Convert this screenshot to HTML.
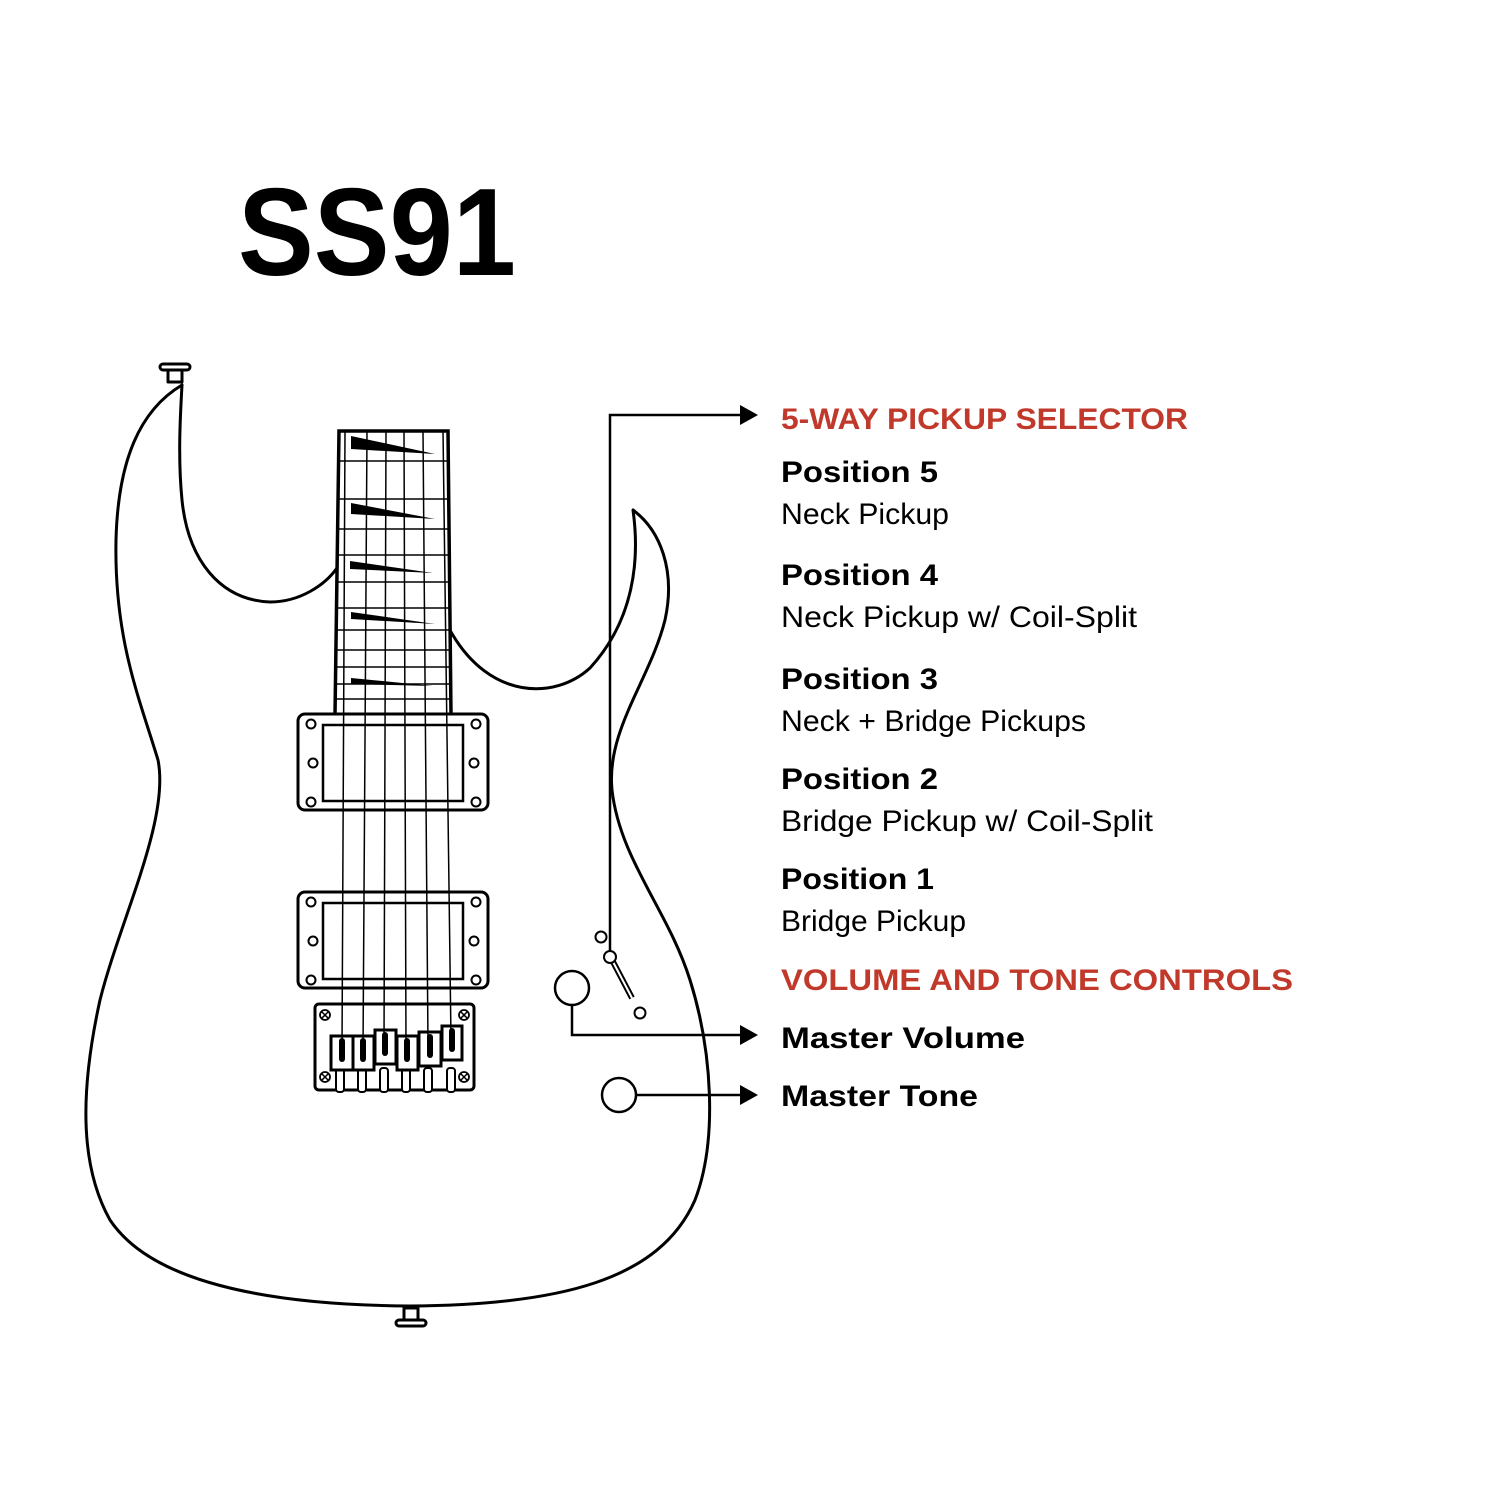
<!DOCTYPE html>
<html><head><meta charset="utf-8"><style>
html,body{margin:0;padding:0;background:#fff;}
svg{display:block;}
</style></head><body>
<svg width="1500" height="1500" viewBox="0 0 1500 1500" xmlns="http://www.w3.org/2000/svg">
<rect width="1500" height="1500" fill="#fff"/>
<text x="238" y="275" font-family="Liberation Sans, sans-serif" font-weight="bold" font-size="124" textLength="278" lengthAdjust="spacingAndGlyphs" fill="#000">SS91</text>

<g fill="none" stroke="#000" stroke-width="3" stroke-linejoin="round" stroke-linecap="round">
<!-- body -->
<path d="M182,385 C140,410 118,460 116,540 C114,640 140,700 158,760 C170,820 120,920 100,1000 C78,1100 82,1170 110,1220 C150,1280 260,1305 410,1306 C560,1305 660,1280 695,1200 C718,1140 712,1050 690,980 C668,910 620,860 612,790 C606,730 650,680 665,620 C676,570 660,530 633,510 C640,560 634,620 590,668 C555,700 490,700 451,632"/>
<path d="M182,385 C180,420 178,460 182,500 C188,560 220,600 270,602 C300,602 325,585 337,568"/>
<!-- strap buttons -->
<rect x="160" y="364" width="30" height="6" rx="3"/>
<rect x="168" y="370" width="14" height="12"/>
<rect x="396" y="1320" width="30" height="6" rx="3"/>
<rect x="404" y="1308" width="14" height="12"/>
</g>

<!-- fretboard -->
<g fill="none" stroke="#000">
<path d="M339,431 L448,431 L451,715 L335,715 Z" stroke-width="3.5" fill="#fff"/>
<g stroke-width="1.5">
<line x1="339" y1="461" x2="448" y2="461"/>
<line x1="339" y1="499" x2="449" y2="499"/>
<line x1="338" y1="529" x2="449" y2="529"/>
<line x1="338" y1="555" x2="449" y2="555"/>
<line x1="338" y1="582" x2="449" y2="582"/>
<line x1="337" y1="608" x2="450" y2="608"/>
<line x1="337" y1="630" x2="450" y2="630"/>
<line x1="337" y1="650" x2="450" y2="650"/>
<line x1="336" y1="667" x2="450" y2="667"/>
<line x1="336" y1="684" x2="451" y2="684"/>
<line x1="336" y1="699" x2="451" y2="699"/>
</g>
</g>
<g fill="#000">
<polygon points="351,436 435,454 351,449"/>
<polygon points="351,503 435,519 351,514"/>
<polygon points="350,561 433,573 350,569"/>
<polygon points="351,612 435,624 351,619"/>
<polygon points="351,678 433,686 351,684"/>
</g>

<!-- pickups -->
<g fill="#fff" stroke="#000" stroke-width="3">
<rect x="298" y="714" width="190" height="96" rx="7"/>
<rect x="323" y="725" width="140" height="76" stroke-width="2.5"/>
<rect x="298" y="892" width="190" height="96" rx="7"/>
<rect x="323" y="903" width="140" height="76" stroke-width="2.5"/>
</g>
<g fill="#fff" stroke="#000" stroke-width="2">
<circle cx="311" cy="724" r="4.5"/><circle cx="313" cy="763" r="4.5"/><circle cx="311" cy="802" r="4.5"/>
<circle cx="476" cy="724" r="4.5"/><circle cx="474" cy="763" r="4.5"/><circle cx="476" cy="802" r="4.5"/>
<circle cx="311" cy="902" r="4.5"/><circle cx="313" cy="941" r="4.5"/><circle cx="311" cy="980" r="4.5"/>
<circle cx="476" cy="902" r="4.5"/><circle cx="474" cy="941" r="4.5"/><circle cx="476" cy="980" r="4.5"/>
</g>

<!-- bridge plate -->
<rect x="315" y="1004" width="159" height="86" rx="4" fill="#fff" stroke="#000" stroke-width="3"/>
<g fill="#fff" stroke="#000" stroke-width="1.8">
<circle cx="325" cy="1015" r="5"/><circle cx="464" cy="1015" r="5"/>
<circle cx="325" cy="1077" r="5"/><circle cx="464" cy="1077" r="5"/>
</g>
<g stroke="#000" stroke-width="1.5">
<path d="M322,1012 l6,6 M328,1012 l-6,6 M461,1012 l6,6 M467,1012 l-6,6 M322,1074 l6,6 M328,1074 l-6,6 M461,1074 l6,6 M467,1074 l-6,6"/>
</g>
<!-- posts -->
<g fill="#fff" stroke="#000" stroke-width="2">
<rect x="336" y="1068" width="8" height="24" rx="3"/>
<rect x="358" y="1068" width="8" height="24" rx="3"/>
<rect x="380" y="1068" width="8" height="24" rx="3"/>
<rect x="402" y="1068" width="8" height="24" rx="3"/>
<rect x="424" y="1068" width="8" height="24" rx="3"/>
<rect x="447" y="1068" width="8" height="24" rx="3"/>
</g>
<!-- saddles -->
<g fill="#fff" stroke="#000" stroke-width="3">
<rect x="331" y="1036" width="22" height="34"/>
<rect x="353" y="1036" width="21" height="34"/>
<rect x="375" y="1030" width="21" height="34"/>
<rect x="397" y="1036" width="21" height="34"/>
<rect x="419" y="1032" width="22" height="34"/>
<rect x="442" y="1026" width="20" height="34"/>
</g>
<g fill="#000">
<rect x="339" y="1038" width="6" height="24" rx="3"/>
<rect x="360" y="1038" width="6" height="24" rx="3"/>
<rect x="382" y="1032" width="6" height="24" rx="3"/>
<rect x="404" y="1038" width="6" height="24" rx="3"/>
<rect x="427" y="1034" width="6" height="24" rx="3"/>
<rect x="449" y="1028" width="6" height="24" rx="3"/>
</g>
<!-- strings -->
<g stroke="#000" stroke-width="1.5">
<line x1="345" y1="431" x2="342" y2="1050"/>
<line x1="367" y1="431" x2="363" y2="1050"/>
<line x1="386" y1="431" x2="384" y2="1045"/>
<line x1="404" y1="431" x2="406" y2="1050"/>
<line x1="423" y1="431" x2="428" y2="1045"/>
<line x1="443" y1="431" x2="451" y2="1040"/>
</g>

<!-- selector & knobs -->
<g fill="none" stroke="#000" stroke-width="2.5">
<polyline points="610,955 610,415 742,415"/>
<polyline points="572,1005 572,1035 742,1035"/>
<line x1="636" y1="1095" x2="742" y2="1095"/>
<circle cx="572" cy="988" r="17" fill="#fff"/>
<circle cx="619" cy="1095" r="17" fill="#fff"/>
<circle cx="601" cy="937" r="5.5" stroke-width="2"/>
<circle cx="640" cy="1013" r="5.5" stroke-width="2"/>
<line x1="611" y1="958" x2="632" y2="998" stroke-width="6"/>
<line x1="611" y1="958" x2="632" y2="998" stroke="#fff" stroke-width="2"/>
<circle cx="610" cy="957" r="6" fill="#fff" stroke-width="2"/>
</g>
<g fill="#000">
<polygon points="740,405 758,415 740,425"/>
<polygon points="740,1025 758,1035 740,1045"/>
<polygon points="740,1085 758,1095 740,1105"/>
</g>

<!-- text -->
<g font-family="Liberation Sans, sans-serif" font-size="30">
<text x="781" y="429" font-weight="bold" fill="#c0392b" textLength="407" lengthAdjust="spacingAndGlyphs">5-WAY PICKUP SELECTOR</text>
<text x="781" y="482" font-weight="bold" textLength="157" lengthAdjust="spacingAndGlyphs">Position 5</text>
<text x="781" y="524" textLength="168" lengthAdjust="spacingAndGlyphs">Neck Pickup</text>
<text x="781" y="585" font-weight="bold" textLength="157" lengthAdjust="spacingAndGlyphs">Position 4</text>
<text x="781" y="627" textLength="356" lengthAdjust="spacingAndGlyphs">Neck Pickup w/ Coil-Split</text>
<text x="781" y="689" font-weight="bold" textLength="157" lengthAdjust="spacingAndGlyphs">Position 3</text>
<text x="781" y="731" textLength="305" lengthAdjust="spacingAndGlyphs">Neck + Bridge Pickups</text>
<text x="781" y="789" font-weight="bold" textLength="157" lengthAdjust="spacingAndGlyphs">Position 2</text>
<text x="781" y="831" textLength="372" lengthAdjust="spacingAndGlyphs">Bridge Pickup w/ Coil-Split</text>
<text x="781" y="889" font-weight="bold" textLength="153" lengthAdjust="spacingAndGlyphs">Position 1</text>
<text x="781" y="931" textLength="185" lengthAdjust="spacingAndGlyphs">Bridge Pickup</text>
<text x="781" y="990" font-weight="bold" fill="#c0392b" textLength="512" lengthAdjust="spacingAndGlyphs">VOLUME AND TONE CONTROLS</text>
<text x="781" y="1048" font-weight="bold" textLength="244" lengthAdjust="spacingAndGlyphs">Master Volume</text>
<text x="781" y="1106" font-weight="bold" textLength="197" lengthAdjust="spacingAndGlyphs">Master Tone</text>
</g>
</svg>
</body></html>
